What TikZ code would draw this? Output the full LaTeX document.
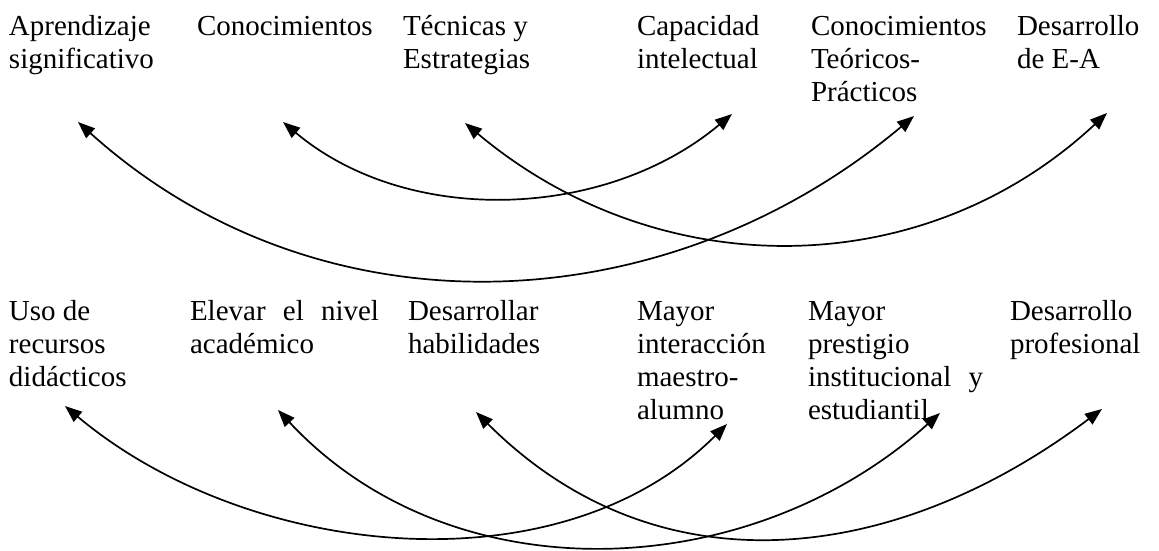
\documentclass[tikz,border=0pt]{standalone}
\usepackage{fontspec}
\setmainfont{Liberation Serif}
\usetikzlibrary{arrows.meta}
\begin{document}
\begin{tikzpicture}[x=1pt,y=1pt,
  lbl/.style={anchor=base west, inner sep=0pt, outer sep=0pt, font=\fontsize{29}{33}\selectfont},
  link/.style={line width=1.7pt, {Triangle[length=17pt,width=13pt]}-{Triangle[length=17pt,width=13pt]}}]
\useasboundingbox (0,0) rectangle (1159,550);
% top row
\node[lbl] (t1) at (9,514) {\parbox[t]{180pt}{\raggedright Aprendizaje\\significativo}};
\node[lbl] (t2) at (197,514) {\parbox[t]{200pt}{\raggedright Conocimientos}};
\node[lbl] (t3) at (403,514) {\parbox[t]{200pt}{\raggedright Técnicas y\\Estrategias}};
\node[lbl] (t4) at (637,514) {\parbox[t]{170pt}{\raggedright Capacidad\\intelectual}};
\node[lbl] (t5) at (811,514) {\parbox[t]{200pt}{\raggedright Conocimientos\\Teóricos-\\Prácticos}};
\node[lbl] (t6) at (1017,514) {\parbox[t]{140pt}{\raggedright Desarrollo\\de E-A}};
% bottom row
\node[lbl] (b1) at (9,230) {\parbox[t]{180pt}{\raggedright Uso de\\recursos\\didácticos}};
\node[lbl] (b2) at (190,230) {\parbox[t]{200pt}{\raggedright \makebox[189pt][s]{Elevar el nivel}\\académico}};
\node[lbl] (b3) at (408,230) {\parbox[t]{200pt}{\raggedright Desarrollar\\habilidades}};
\node[lbl] (b4) at (637,230) {\parbox[t]{170pt}{\raggedright Mayor\\interacción\\maestro-\\alumno}};
\node[lbl] (b5) at (808,230) {\parbox[t]{200pt}{\raggedright Mayor\\prestigio\\\makebox[175pt][s]{institucional y}\\estudiantil}};
\node[lbl] (b6) at (1010,230) {\parbox[t]{150pt}{\raggedright Desarrollo\\profesional}};
% arrow ends
\coordinate (aL) at (283,428); \coordinate (aR) at (732,436);
\coordinate (bL) at (465,427); \coordinate (bR) at (1107,437);
\coordinate (cL) at (78,428);  \coordinate (cR) at (914,434);
\coordinate (dL) at (65,144);  \coordinate (dR) at (727,126);
\coordinate (eL) at (278,140); \coordinate (eR) at (940,137);
\coordinate (fL) at (476,138); \coordinate (fR) at (1102,141);
% connectors
\draw[link] (aL) to[out=-40,in=-140,distance=164pt] (aR);
\draw[link] (bL) to[out=-40,in=-137,distance=252pt] (bR);
\draw[link] (cL) to[out=-42,in=-140,distance=325pt] (cR);
\draw[link] (dL) to[out=-40,in=-135,distance=238pt] (dR);
\draw[link] (eL) to[out=-47,in=-138,distance=256pt] (eR);
\draw[link] (fL) to[out=-45,in=-143,distance=258pt] (fR);
\end{tikzpicture}
\end{document}
